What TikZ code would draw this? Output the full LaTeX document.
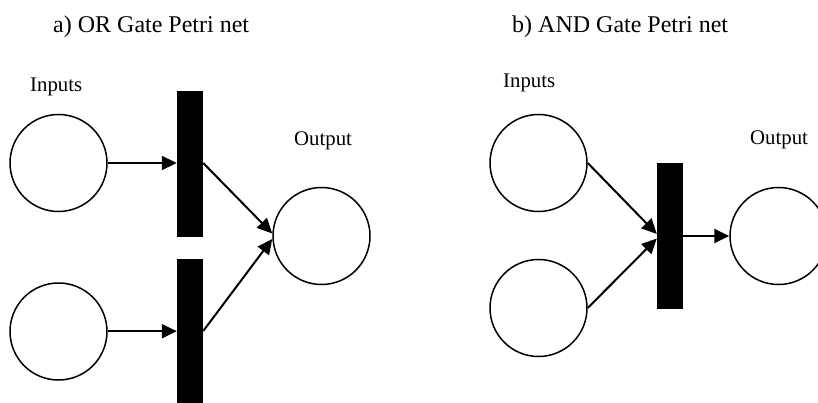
\documentclass[tikz,border=0pt]{standalone}
\usepackage{fontspec}
\setmainfont{Liberation Serif}
\usetikzlibrary{arrows.meta}
\begin{document}
\begin{tikzpicture}[x=1pt,y=-1pt,
  place/.style={circle,draw=black,line width=1.5pt,minimum size=97pt,inner sep=0pt},
  trans/.style={rectangle,fill=black,draw=none,minimum width=26pt,minimum height=146pt,inner sep=0pt},
  arr/.style={line width=2pt,-{Triangle[length=15pt,width=14pt]}},
  title/.style={anchor=base west,inner sep=0pt,font=\fontsize{24}{28}\selectfont},
  lbl/.style={anchor=base west,inner sep=0pt,font=\fontsize{20.8}{24}\selectfont}]
\useasboundingbox (0,0) rectangle (818,403);
% titles
\node[title] (ta) at (53,33) {a) OR Gate Petri net};
\node[title] (tb) at (512,33) {b) AND Gate Petri net};
% left: OR gate
\node[lbl] (inl) at (30,92) {Inputs};
\node[lbl] (outl) at (294,146) {Output};
\node[place] (p1) at (58.5,163) {};
\node[place] (p2) at (58.5,331.5) {};
\node[trans] (t1) at (190,164) {};
\node[trans] (t2) at (190,332) {};
\node[place] (o1) at (321.5,236) {};
\draw[arr] (p1.east) -- (p1.east -| t1.west);
\draw[arr] ([yshift=0.3pt]p2.east) -- ([yshift=0.3pt]p2.east -| t2.west);
\draw[arr] ([yshift=1pt]t1.east) -- ([yshift=2.5pt]o1.west);
\draw[arr] ([yshift=1pt]t2.east) -- ([yshift=-3pt]o1.west);
% right: AND gate
\node[lbl] (inr) at (503,88) {Inputs};
\node[lbl] (outr) at (750,145) {Output};
\node[place] (q1) at (538.5,163) {};
\node[place] (q2) at (538.5,308) {};
\node[trans] (t3) at (670,236) {};
\node[place] (o2) at (778.5,236) {};
\draw[arr] (q1.east) -- ([yshift=2pt]t3.west);
\draw[arr] (q2.east) -- ([yshift=-2.5pt]t3.west);
\draw[arr] (t3.east) -- (o2.west);
\end{tikzpicture}
\end{document}
